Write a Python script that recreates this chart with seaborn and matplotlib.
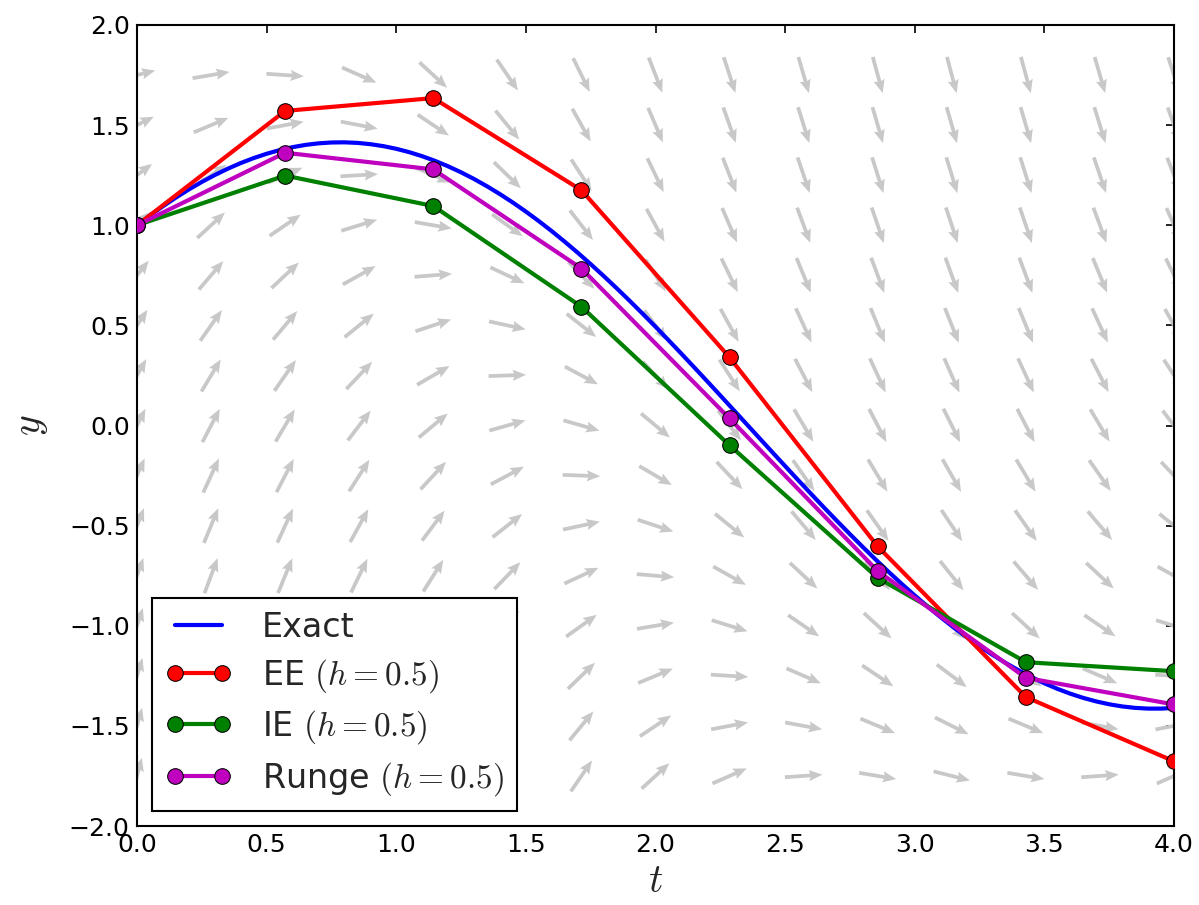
import numpy as np
import pandas as pd
import matplotlib
matplotlib.use("Agg")
import matplotlib.pyplot as plt
from matplotlib.ticker import FuncFormatter
import seaborn as sns

# Step nodes of the three one-step schemes
t_nodes = [0.0, 0.5714, 1.1429, 1.7143, 2.2857, 2.8571, 3.4286, 4.0]
ee_vals = [1.0, 1.571, 1.635, 1.175, 0.340, -0.604, -1.356, -1.677]
ie_vals = [1.0, 1.248, 1.096, 0.593, -0.099, -0.761, -1.182, -1.227]
runge_vals = [1.0, 1.362, 1.279, 0.784, 0.035, -0.727, -1.260, -1.393]

# Exact solution sampled every 0.05 on [0, 4]
t_exact = [round(0.05 * i, 2) for i in range(81)]
y_exact = [1.0000, 1.0487, 1.0948, 1.1382, 1.1788, 1.2163, 1.2508, 1.2823,
           1.3105, 1.3354, 1.3570, 1.3752, 1.3899, 1.4013, 1.4090, 1.4133,
           1.4141, 1.4113, 1.4049, 1.3951, 1.3818, 1.3650, 1.3448, 1.3213,
           1.2944, 1.2643, 1.2311, 1.1947, 1.1554, 1.1132, 1.0682, 1.0206,
           0.9704, 0.9177, 0.8629, 0.8057, 0.7466, 0.6857, 0.6230, 0.5588,
           0.4932, 0.4263, 0.3584, 0.2895, 0.2200, 0.1499, 0.0794, 0.0088,
           -0.0619, -0.1325, -0.2026, -0.2724, -0.3414, -0.4096, -0.4767,
           -0.5426, -0.6072, -0.6703, -0.7318, -0.7913, -0.8489, -0.9043,
           -0.9575, -1.0084, -1.0567, -1.1023, -1.1452, -1.1852, -1.2223,
           -1.2564, -1.2873, -1.3149, -1.3393, -1.3603, -1.3779, -1.3921,
           -1.4029, -1.4101, -1.4137, -1.4138, -1.4104]

# Direction-field grid
field_t = [i * 4.0 / 14 for i in range(15)]
field_y = [-1.75 + 0.25 * j for j in range(15)]

labels = ["Exact", r"EE $(h = 0.5)$", r"IE $(h = 0.5)$", r"Runge $(h = 0.5)$"]


def rhs(t, y):
    """Right-hand side of y' = -y + 2 cos t."""
    return -y + 2.0 * np.cos(t)


sns.set_style("white")
plt.rcParams.update({
    "font.family": ["DejaVu Sans"],
    "mathtext.fontset": "cm",
    "xtick.direction": "in",
    "ytick.direction": "in",
    "xtick.top": True,
    "ytick.right": True,
    "xtick.major.size": 4,
    "ytick.major.size": 4,
    "xtick.major.width": 0.8,
    "ytick.major.width": 0.8,
    "xtick.labelsize": 12,
    "ytick.labelsize": 12,
    "xtick.color": "black",
    "ytick.color": "black",
    "axes.edgecolor": "black",
    "axes.linewidth": 1.0,
})

fig = plt.figure(figsize=(1199 / 150, 905 / 150), dpi=150)
ax = fig.add_axes([137 / 1199, 1 - 826 / 905, (1174 - 137) / 1199, (826 - 25) / 905])

# Slope field, unit arrows centred on the grid points
TT, YY = np.meshgrid(field_t, field_y)
S = rhs(TT, YY)
norm = np.sqrt(1.0 + S ** 2)
ax.quiver(TT, YY, 1.0 / norm, S / norm, color="#c8c8c8", pivot="middle",
          angles="uv", scale_units="inches", scale=1 / 0.25,
          width=0.0036, headwidth=3.0, headlength=3.6, headaxislength=3.2,
          zorder=1)

exact_df = pd.DataFrame({"t": t_exact, "y": y_exact})
sns.lineplot(data=exact_df, x="t", y="y", ax=ax, color="#0000ff", lw=2,
             label=labels[0], sort=False, zorder=2)

series = [(ee_vals, "#ff0000", labels[1]),
          (ie_vals, "#008000", labels[2]),
          (runge_vals, "#bf00bf", labels[3])]
for vals, col, lab in series:
    df = pd.DataFrame({"t": t_nodes, "y": vals})
    sns.lineplot(data=df, x="t", y="y", ax=ax, color=col, lw=2, marker="o",
                 markersize=7.5, markeredgecolor="black", markeredgewidth=0.5,
                 label=lab, sort=False, zorder=3)

ax.set_xlim(0, 4)
ax.set_ylim(-2, 2)
ax.set_xticks(np.arange(0, 4.01, 0.5))
ax.set_yticks(np.arange(-2, 2.01, 0.5))
fmt = FuncFormatter(lambda v, pos: f"{v:.1f}".replace("-", "\u2212"))
ax.xaxis.set_major_formatter(fmt)
ax.yaxis.set_major_formatter(fmt)
for s in ax.spines.values():
    s.set_visible(True)
    s.set_color("black")

ax.set_xlabel(r"$t$", fontsize=19, labelpad=2)
ax.set_ylabel(r"$y$", fontsize=19, labelpad=9)

leg = ax.legend(loc="lower left", numpoints=2, fontsize=16, fancybox=False,
                framealpha=1.0, edgecolor="black", borderpad=0.4,
                handlelength=2.0, handletextpad=0.9, labelspacing=0.40,
                borderaxespad=0.45)
leg.get_frame().set_linewidth(1.0)

fig.savefig("out.png", dpi=150)
